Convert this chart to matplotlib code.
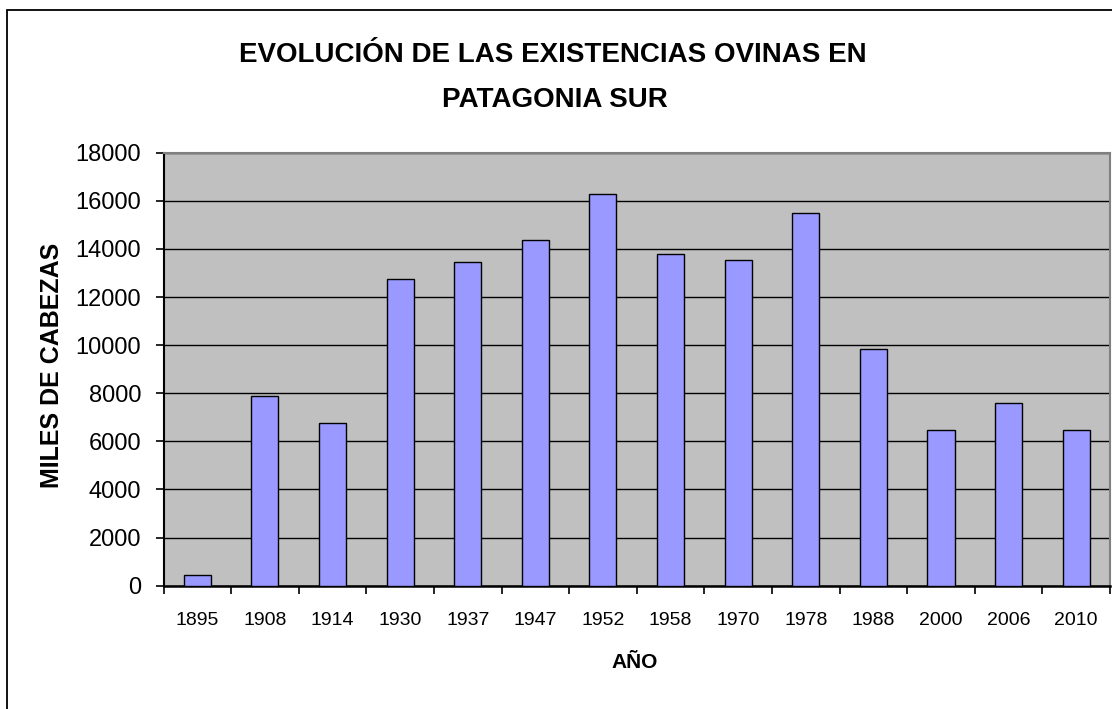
import numpy as np
import matplotlib.pyplot as plt
from matplotlib.patches import Rectangle

plt.rcParams['font.family'] = ['Liberation Sans', 'DejaVu Sans']

# -------------------------------------------------------------------
# DATOS (miles de cabezas)
# -------------------------------------------------------------------
anios = ['1895', '1908', '1914', '1930', '1937', '1947', '1952',
         '1958', '1970', '1978', '1988', '2000', '2006', '2010']
existencias = [440, 7880, 6770, 12730, 13460, 14360, 16300,
               13770, 13560, 15500, 9820, 6470, 7580, 6470]
y_ticks = [0, 2000, 4000, 6000, 8000, 10000, 12000, 14000, 16000, 18000]

TITULO_1 = 'EVOLUCIÓN DE LAS EXISTENCIAS OVINAS EN'
TITULO_2 = 'PATAGONIA SUR'

W, H = 1112, 709
fig = plt.figure(figsize=(W / 100, H / 100), dpi=100)

# marco del área del gráfico
fig.patches.append(Rectangle((7 / W, -0.05), 1.2, 1 - 10 / H + 0.05,
                             transform=fig.transFigure, fill=False,
                             edgecolor='black', linewidth=1.3))

ax = fig.add_axes([163.5 / W, 1 - 585.7 / H, (1110 - 163.5) / W, (585.7 - 152.7) / H])
ax.set_facecolor('#C0C0C0')

x = np.arange(len(anios))
ax.bar(x, existencias, width=0.4, color='#9999FF', edgecolor='black',
       linewidth=1.0, zorder=3)

ax.set_xlim(-0.5, len(anios) - 0.5)
ax.set_ylim(0, 18000)
ax.set_yticks(y_ticks)
ax.set_yticklabels([str(v) for v in y_ticks])
ax.yaxis.grid(True, color='black', linewidth=1.0, zorder=1)
ax.set_axisbelow(True)

# ticks en los límites de categoría, etiquetas en el centro
ax.set_xticks(np.arange(len(anios) + 1) - 0.5)
ax.set_xticklabels([])
ax.set_xticks(x, minor=True)
ax.set_xticklabels(anios, minor=True)
ax.tick_params(axis='x', which='major', direction='out', length=6, width=1.2)
ax.tick_params(axis='x', which='minor', length=0, pad=19, labelsize=14)
ax.tick_params(axis='y', direction='out', length=6, width=1.2, pad=10, labelsize=17)

for lado in ['top', 'right']:
    ax.spines[lado].set_color('#808080')
    ax.spines[lado].set_linewidth(1.5)
ax.spines['left'].set_linewidth(1.5)
ax.spines['bottom'].set_linewidth(1.8)

ax.set_ylabel('MILES DE CABEZAS', fontsize=18, fontweight='bold')
ax.yaxis.set_label_coords((64 - 163.5) / (1110 - 163.5), (585.7 - 365) / (585.7 - 152.7))
ax.set_xlabel('AÑO', fontsize=15, fontweight='bold')
ax.xaxis.set_label_coords((635 - 163.5) / (1110 - 163.5), -(653 - 585.7) / (585.7 - 152.7))

fig.text(553 / W, 1 - 55 / H, TITULO_1, ha='center', va='center',
         fontsize=20, fontweight='bold')
fig.text(555 / W, 1 - 100 / H, TITULO_2, ha='center', va='center',
         fontsize=20, fontweight='bold')

plt.savefig('out.png', dpi=100)
plt.close()
